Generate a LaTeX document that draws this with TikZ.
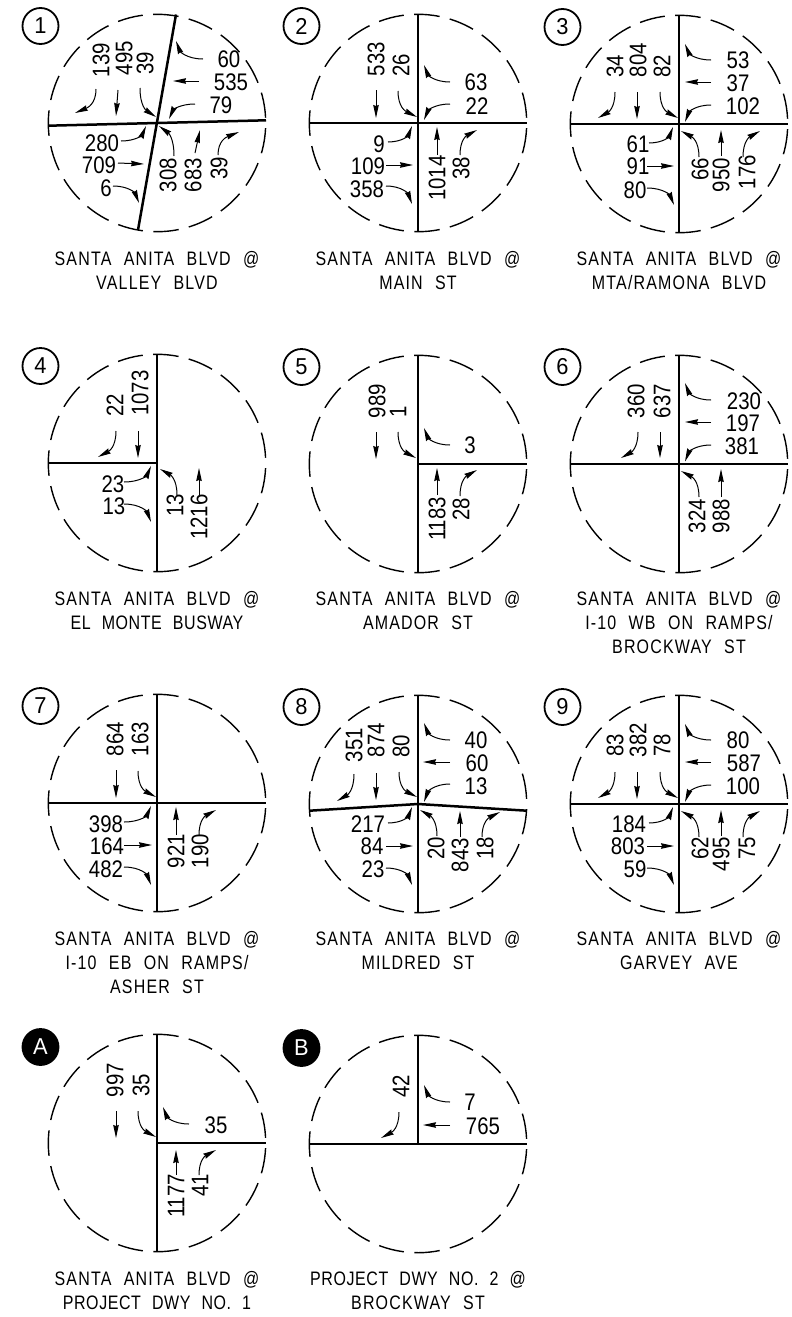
\documentclass[tikz,border=0pt]{standalone}
\usepackage{fontspec}
\setmainfont{Liberation Sans}
\newfontfamily\numfont[FakeStretch=0.85]{Liberation Sans}
\newfontfamily\badgefont[FakeStretch=0.95]{Liberation Sans}
\newfontfamily\capfont[FakeStretch=0.82,LetterSpace=6,WordSpace=2.2]{Liberation Sans}
\usetikzlibrary{arrows.meta}
\tikzset{
  ringline/.style={line width=1.4pt,dash pattern=on 25.5pt off 10.45pt},
  roadline/.style={line width=2.5pt},
  flowline/.style={line width=1pt,-{Stealth[length=13pt,width=5.5pt,inset=1pt]}},
  countlabel/.style={inner sep=0pt,font=\numfont\fontsize{24}{24}\selectfont},
  caplabel/.style={inner sep=0pt,anchor=base,font=\capfont\fontsize{19.5}{19.5}\selectfont},
  badge/.style={circle,draw,line width=1.8pt,minimum size=36pt,inner sep=0pt,font=\badgefont\fontsize{23}{23}\selectfont},
  badgeblack/.style={badge,fill=black,text=white}
}
\newcounter{lab}
\def\LabH(#1,#2)#3;{\stepcounter{lab}\node[countlabel] (lab\thelab) at (#1,#2) {#3};}
\def\LabV(#1,#2)#3;{\stepcounter{lab}\node[countlabel,rotate=90] (lab\thelab) at (#1,#2) {#3};}
\def\ArrS(#1,#2)(#3,#4);{\draw[flowline] (#1,#2) -- (#3,#4);}
% first leaves horizontally, then bends
\def\ArrH(#1,#2)(#3,#4);{\draw[flowline] (#1,#2) .. controls ({#1+0.62*(#3-#1)},#2) and ({#3+0.14*(#1-#3)},{#4+0.55*(#2-#4)}) .. (#3,#4);}
% first leaves vertically, then bends
\def\ArrV(#1,#2)(#3,#4);{\draw[flowline] (#1,#2) .. controls (#1,{#2+0.62*(#4-#2)}) and ({#3+0.6*(#1-#3)},{#4+0.22*(#2-#4)}) .. (#3,#4);}
\def\Ring{\draw[ringline] (2.7:108.7) arc[start angle=2.7,end angle=362.7,radius=108.7];}
\def\Cap#1#2{\stepcounter{lab}\node[caplabel] (lab\thelab) at (0,#1) {#2};}
\def\Tight{\addfontfeature{LetterSpace=3}}
\def\RoadV{\draw[roadline] (0,-109) -- (0,109);}
\def\RoadH{\draw[roadline] (-109,0) -- (109,0);}
\begin{document}
\begin{tikzpicture}[x=1pt,y=-1pt]
\useasboundingbox (0,0) rectangle (792,1317);
\fill[white] (0,0) rectangle (792,1317);
% ---------- 1
\begin{scope}[shift={(157,123)}]
\Ring
\node[badge] (b1) at (-116.5,-97) {1};
\draw[roadline] (-108.5,2.7) -- (109,-2.7);
\draw[roadline] (19,-108.5) -- (-19,107);
\LabH(72,-64)60; \LabH(74,-41)535; \LabH(64,-18)79;
\LabH(-55,20)280; \LabH(-58,42)709; \LabH(-51,65)6;
\LabV(-56,-63)139; \LabV(-33,-65)495; \LabV(-12,-60)39;
\LabV(11,52)308; \LabV(36,52)683; \LabV(62,45)39;
\ArrH(46,-64)(19,-82); \ArrS(42,-42)(16,-42); \ArrH(38,-19)(12,-4);
\ArrV(-61,-34)(-82,-10); \ArrS(-39,-33)(-41,-7); \ArrV(-17,-35)(-1,-6);
\ArrH(-36,18)(-11,3); \ArrS(-39,40)(-13,41); \ArrH(-44,63)(-18,80);
\ArrV(17,33)(2,3); \ArrS(38,30)(43,7); \ArrV(61,32)(82,9);
\Cap{142}{SANTA ANITA BLVD @}\Cap{166}{VALLEY BLVD}
\end{scope}
% ---------- 2
\begin{scope}[shift={(418,123)}]
\Ring
\node[badge] (b2) at (-116.5,-97) {2};
\RoadV\RoadH
\LabH(58,-41)63; \LabH(59,-17)22; \LabH(-39,21)9; \LabH(-50,43)109; \LabH(-51,66)358;
\LabV(-42,-64)533; \LabV(-17,-58)26; \LabV(19,55)1014; \LabV(43,45)38;
\ArrH(32,-41)(6,-58); \ArrH(32,-19)(6,-3);
\ArrS(-42,-33)(-42,-5); \ArrV(-20,-32)(-1,-6);
\ArrH(-30,19)(-6,3); \ArrS(-32,42)(-5,42); \ArrH(-32,63)(-6,81);
\ArrS(19,32)(19,4); \ArrV(42,32)(59,7);
\Cap{142}{SANTA ANITA BLVD @}\Cap{166}{MAIN ST}
\end{scope}
% ---------- 3
\begin{scope}[shift={(679,124)}]
\Ring
\node[badge] (b3) at (-116.5,-97) {3};
\RoadV\RoadH
\LabH(59,-64)53; \LabH(59,-41)37; \LabH(64,-18)102; \LabH(-41,20)61; \LabH(-41,42)91; \LabH(-44,66)80;
\LabV(-64,-58)34; \LabV(-41,-64)804; \LabV(-17,-58)82; \LabV(21,45)66; \LabV(42,51)950; \LabV(68,48)176;
\ArrH(32,-64)(6,-80); \ArrS(32,-42)(6,-42); \ArrH(32,-19)(6,-2);
\ArrV(-64,-32)(-81,-6); \ArrS(-42,-32)(-42,-5); \ArrV(-19,-32)(-1,-6);
\ArrH(-30,19)(-6,3); \ArrS(-32,42)(-5,42); \ArrH(-32,64)(-5,81);
\ArrV(20,33)(2,7); \ArrS(42,32)(42,6); \ArrV(64,33)(81,7);
\Cap{141}{SANTA ANITA BLVD @}\Cap{165}{MTA/RAMONA BLVD}
\end{scope}
% ---------- 4
\begin{scope}[shift={(157,463)}]
\Ring
\node[badge] (b4) at (-116.5,-97) {4};
\RoadV
\draw[roadline] (-109,0) -- (0,0);
\LabH(-44,21)23; \LabH(-43,43)13;
\LabV(-42,-58)22; \LabV(-17,-70)1073; \LabV(18,42)13; \LabV(42,54)1216;
\ArrV(-41,-32)(-59,-6); \ArrS(-19,-32)(-19,-5);
\ArrH(-33,19)(-6,3); \ArrH(-33,41)(-6,59);
\ArrV(20,32)(3,6); \ArrS(42,32)(42,5);
\Cap{142}{SANTA ANITA BLVD @}\Cap{166}{\Tight EL MONTE BUSWAY}
\end{scope}
% ---------- 5
\begin{scope}[shift={(418,464)}]
\Ring
\node[badge] (b5) at (-116.5,-97) {5};
\RoadV
\draw[roadline] (0,0) -- (109,0);
\LabH(52,-19)3;
\LabV(-41,-63)989; \LabV(-20,-52)1; \LabV(19,55)1183; \LabV(43,45)28;
\ArrH(32,-19)(6,-36); \ArrS(-42,-32)(-42,-5); \ArrV(-20,-32)(-2,-6);
\ArrS(19,31)(19,4); \ArrV(42,32)(59,6);
\Cap{141}{SANTA ANITA BLVD @}\Cap{165}{AMADOR ST}
\end{scope}
% ---------- 6
\begin{scope}[shift={(679,464)}]
\Ring
\node[badge] (b6) at (-116.5,-97) {6};
\RoadV\RoadH
\LabH(65,-63)230; \LabH(64,-41)197; \LabH(63,-18)381;
\LabV(-43,-63)360; \LabV(-17,-63)637; \LabV(18,52)324; \LabV(42,52)988;
\ArrH(32,-64)(6,-81); \ArrS(32,-42)(6,-42); \ArrH(32,-19)(6,-2.5);
\ArrV(-41,-32)(-58,-6); \ArrS(-19,-32)(-19,-6);
\ArrV(20,33)(2,7); \ArrS(42,33)(42,5);
\Cap{141}{SANTA ANITA BLVD @}\Cap{165}{I-10 WB ON RAMPS/}\Cap{189}{BROCKWAY ST}
\end{scope}
% ---------- 7
\begin{scope}[shift={(157,803)}]
\Ring
\node[badge] (b7) at (-116.5,-97) {7};
\RoadV\RoadH
\LabH(-51,21)398; \LabH(-50,43)164; \LabH(-51,66)482;
\LabV(-42,-64)864; \LabV(-17,-64)163; \LabV(19,48)921; \LabV(43,48)190;
\ArrS(-41,-33)(-41,-5); \ArrV(-19,-32)(-1,-6);
\ArrH(-33,19)(-6,3); \ArrS(-33,42)(-5,42); \ArrH(-33,64)(-6,82);
\ArrS(19,32)(19,4); \ArrV(42,32)(59,7);
\Cap{142}{SANTA ANITA BLVD @}\Cap{166}{I-10 EB ON RAMPS/}\Cap{190}{ASHER ST}
\end{scope}
% ---------- 8
\begin{scope}[shift={(418,804)}]
\Ring
\node[badge] (b8) at (-116.5,-97) {8};
\RoadV
\draw[roadline] (-108.5,6.7) -- (0,0) -- (109,6.7);
\LabH(58,-64)40; \LabH(59,-41)60; \LabH(58,-18)13; \LabH(-50,20.5)217; \LabH(-46,42.5)84; \LabH(-45,65)23;
\LabV(-64,-59)351; \LabV(-42,-64)874; \LabV(-17,-58)80; \LabV(18,44)20; \LabV(42,51)843; \LabV(67,44)18;
\ArrH(32,-64)(6,-81); \ArrS(32,-42)(5,-42); \ArrH(32,-20)(6,-2);
\ArrV(-64,-30)(-81,-3); \ArrS(-42,-31)(-42,-4); \ArrV(-19,-32)(-1,-7);
\ArrH(-30,19)(-6,3); \ArrS(-32,42)(-5,42); \ArrH(-32,64)(-6,81);
\ArrV(19,32)(2,6); \ArrS(42,33)(42,7); \ArrV(64,33)(82,8);
\Cap{141}{SANTA ANITA BLVD @}\Cap{165}{MILDRED ST}
\end{scope}
% ---------- 9
\begin{scope}[shift={(679,804)}]
\Ring
\node[badge] (b9) at (-116.5,-97) {9};
\RoadV\RoadH
\LabH(59,-64)80; \LabH(65,-41)587; \LabH(64,-18)100; \LabH(-50,20)184; \LabH(-51,42)803; \LabH(-44,65)59;
\LabV(-64,-59)83; \LabV(-41,-64)382; \LabV(-17,-59)78; \LabV(21,44)62; \LabV(42,50)495; \LabV(68,44)75;
\ArrH(32,-64)(6,-80); \ArrS(32,-42)(6,-42); \ArrH(32,-19)(6,-2);
\ArrV(-64,-32)(-81,-6); \ArrS(-42,-32)(-42,-5); \ArrV(-19,-32)(-1,-6);
\ArrH(-30,19)(-6,3); \ArrS(-32,42)(-5,42); \ArrH(-32,64)(-5,81);
\ArrV(20,33)(2,7); \ArrS(42,32)(42,6); \ArrV(64,33)(81,7);
\Cap{141}{SANTA ANITA BLVD @}\Cap{165}{GARVEY AVE}
\end{scope}
% ---------- A
\begin{scope}[shift={(157,1143)}]
\Ring
\node[badgeblack] (bA) at (-116.5,-96) {A};
\RoadV
\draw[roadline] (0,0) -- (109,0);
\LabH(59,-18)35;
\LabV(-42,-63)997; \LabV(-16,-58)35; \LabV(19,53)1177; \LabV(43,42)41;
\ArrH(32,-19)(6,-36); \ArrS(-41,-32)(-41,-5); \ArrV(-19,-32)(-1,-6);
\ArrS(19,32)(19,7); \ArrV(42,32)(59,7);
\Cap{142}{SANTA ANITA BLVD @}\Cap{166}{\Tight PROJECT DWY NO. 1}
\end{scope}
% ---------- B
\begin{scope}[shift={(418,1144)}]
\Ring
\node[badgeblack] (bB) at (-116.5,-96) {B};
\RoadH
\draw[roadline] (0,-109) -- (0,0);
\LabH(52,-42)7; \LabH(65,-18)765;
\LabV(-17,-58)42;
\ArrH(32,-42)(6,-59); \ArrS(32,-19)(5,-19); \ArrV(-19,-32)(-37,-6);
\Cap{141}{\Tight PROJECT DWY NO. 2 @}\Cap{165}{BROCKWAY ST}
\end{scope}
\end{tikzpicture}
\end{document}
